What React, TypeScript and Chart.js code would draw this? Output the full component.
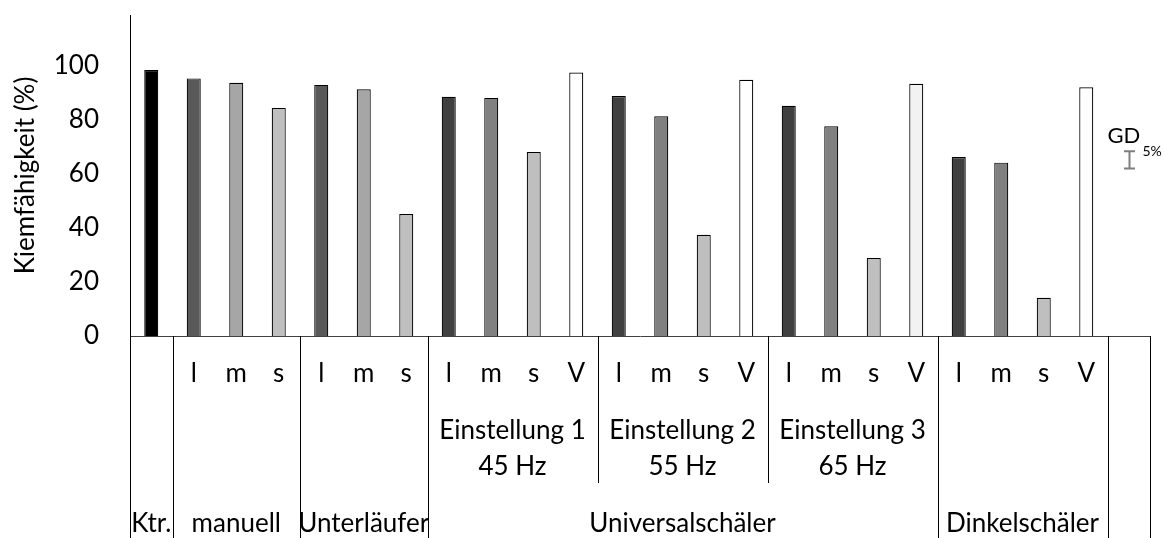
import React, { useEffect, useRef } from "react";
import { Chart, registerables } from "chart.js";

Chart.register(...registerables);

// ---- data ----
const subLabels = ["", "l", "m", "s", "l", "m", "s", "l", "m", "s", "V", "l", "m", "s", "V", "l", "m", "s", "V", "l", "m", "s", "V", ""];
const values = [98.2, 95.1, 93.5, 84.2, 92.7, 91.1, 45.0, 88.3, 87.9, 67.9, 97.3, 88.6, 81.1, 37.4, 94.6, 85.0, 77.4, 28.8, 93.1, 66.1, 64.0, 14.1, 91.8, null];
const barColors = ["#000000", "#595959", "#a6a6a6", "#bfbfbf", "#595959", "#a6a6a6", "#bfbfbf", "#404040", "#808080", "#bfbfbf", "#ffffff", "#404040", "#808080", "#bfbfbf", "#ffffff", "#404040", "#808080", "#bfbfbf", "#f2f2f2", "#404040", "#808080", "#bfbfbf", "#ffffff", "#ffffff"];
const settingLabels = [["Einstellung 1", "45 Hz"], ["Einstellung 2", "55 Hz"], ["Einstellung 3", "65 Hz"]];
const settingSpans = [[7, 10], [11, 14], [15, 18]];
const groupLabels = ["Ktr.", "manuell", "Unterläufer", "Universalschäler", "Dinkelschäler", ""];
const groupSpans = [[0, 0], [1, 3], [4, 6], [7, 18], [19, 22], [23, 23]];
const yTicks = [0, 20, 40, 60, 80, 100];
const yMax = 118.5;
const yTitle = "Kiemfähigkeit (%)";
const gdCenter = 65.0;
const gdValue = 6.4;
const gdSlot = 23;

const FONT = "Lato";

const categoryAxisPlugin = {
  id: "categoryAxis",
  afterDraw(chart: any) {
    const { ctx, chartArea } = chart;
    const xs = chart.scales.x;
    const ys = chart.scales.y;
    const px = (i: number) => xs.getPixelForValue(i);
    const half = (px(1) - px(0)) / 2;
    const base = chartArea.bottom;
    const boundary = (b: number) => Math.round(b < subLabels.length ? px(b) - half : px(subLabels.length - 1) + half) + 0.5;

    ctx.save();
    ctx.strokeStyle = "#000";
    ctx.lineWidth = 1;
    const full = [groupSpans[0][0]];
    groupSpans.forEach((s) => full.push(s[1] + 1));
    full.forEach((b) => {
      const x = boundary(b);
      ctx.beginPath();
      ctx.moveTo(x, base);
      ctx.lineTo(x, chart.height);
      ctx.stroke();
    });
    for (let k = 0; k < settingSpans.length - 1; k++) {
      const x = boundary(settingSpans[k][1] + 1);
      ctx.beginPath();
      ctx.moveTo(x, base);
      ctx.lineTo(x, base + 147);
      ctx.stroke();
    }

    ctx.fillStyle = "#000";
    ctx.textAlign = "center";
    ctx.textBaseline = "alphabetic";
    ctx.font = `26px ${FONT}`;
    subLabels.forEach((l, i) => {
      if (l) ctx.fillText(l, px(i), base + 46);
    });
    settingLabels.forEach((lines, k) => {
      const cx = (px(settingSpans[k][0]) + px(settingSpans[k][1])) / 2;
      ctx.fillText(lines[0], cx, base + 103);
      ctx.fillText(lines[1], cx, base + 139);
    });
    groupLabels.forEach((g, k) => {
      if (!g) return;
      const cx = (px(groupSpans[k][0]) + px(groupSpans[k][1])) / 2;
      ctx.fillText(g, cx, base + 196);
    });

    // GD 5% error bar
    const cx = Math.round(px(gdSlot)) + 0.5;
    const yTop = ys.getPixelForValue(gdCenter + gdValue / 2);
    const yBot = ys.getPixelForValue(gdCenter - gdValue / 2);
    ctx.strokeStyle = "#7f7f7f";
    ctx.lineWidth = 2;
    ctx.beginPath();
    ctx.moveTo(cx, yTop);
    ctx.lineTo(cx, yBot);
    ctx.moveTo(cx - 5.5, yTop);
    ctx.lineTo(cx + 5.5, yTop);
    ctx.moveTo(cx - 5.5, yBot);
    ctx.lineTo(cx + 5.5, yBot);
    ctx.stroke();
    ctx.textAlign = "left";
    ctx.fillStyle = "#000";
    ctx.font = `22px ${FONT}`;
    ctx.fillText("GD", cx - 22, yTop - 8);
    ctx.font = `14px ${FONT}`;
    ctx.fillText("5%", cx + 13, yTop + 4.5);
    ctx.restore();
  },
};

export default function App() {
  const canvasRef = useRef<HTMLCanvasElement | null>(null);

  useEffect(() => {
    let chart: Chart | null = null;
    let cancelled = false;
    const make = () => {
      if (cancelled || !canvasRef.current) return;
      Chart.defaults.font.family = FONT;
      chart = new Chart(canvasRef.current, {
        type: "bar",
        data: {
          labels: subLabels.map((l, i) => `${i}`),
          datasets: [
            {
              data: values as any,
              backgroundColor: barColors,
              borderColor: "#000",
              borderWidth: 1.2,
              categoryPercentage: 1,
              barPercentage: 0.33,
            },
          ],
        },
        options: {
          responsive: false,
          animation: false,
          devicePixelRatio: 1,
          layout: { padding: { left: 0, right: 15, top: 15, bottom: 0 } },
          plugins: { legend: { display: false }, tooltip: { enabled: false } },
          scales: {
            x: {
              grid: { display: false, drawTicks: false },
              border: { display: true, color: "#404040", width: 1 },
              ticks: { display: false },
              afterFit: (s: any) => {
                s.height = 202;
              },
            },
            y: {
              min: 0,
              max: yMax,
              grid: { display: false, drawTicks: false },
              border: { display: true, color: "#000", width: 1 },
              ticks: {
                stepSize: 20,
                padding: 31,
                color: "#000",
                font: { family: FONT, size: 26, lineHeight: 0.1 },
              },
              afterBuildTicks: (s: any) => {
                s.ticks = yTicks.map((v) => ({ value: v }));
              },
              title: {
                display: true,
                text: yTitle,
                color: "#000",
                font: { family: FONT, size: 26 },
                padding: { top: 10, bottom: 0 },
              },
              afterFit: (s: any) => {
                s.width = 130;
                s.paddingTop = 0;
                s.paddingBottom = 0;
              },
            },
          },
        },
        plugins: [categoryAxisPlugin],
      });
    };
    const fontsApi = (document as any).fonts;
    if (fontsApi && fontsApi.load) {
      Promise.all([fontsApi.load(`26px ${FONT}`), fontsApi.load(`14px ${FONT}`)])
        .catch(() => null)
        .then(make);
    } else {
      make();
    }
    return () => {
      cancelled = true;
      if (chart) chart.destroy();
    };
  }, []);

  return (
    <div style={{ position: "absolute", left: 0, top: 0, width: 1165, height: 538, background: "#fff" }}>
      <canvas ref={canvasRef} width={1165} height={538} style={{ display: "block" }} />
    </div>
  );
}
